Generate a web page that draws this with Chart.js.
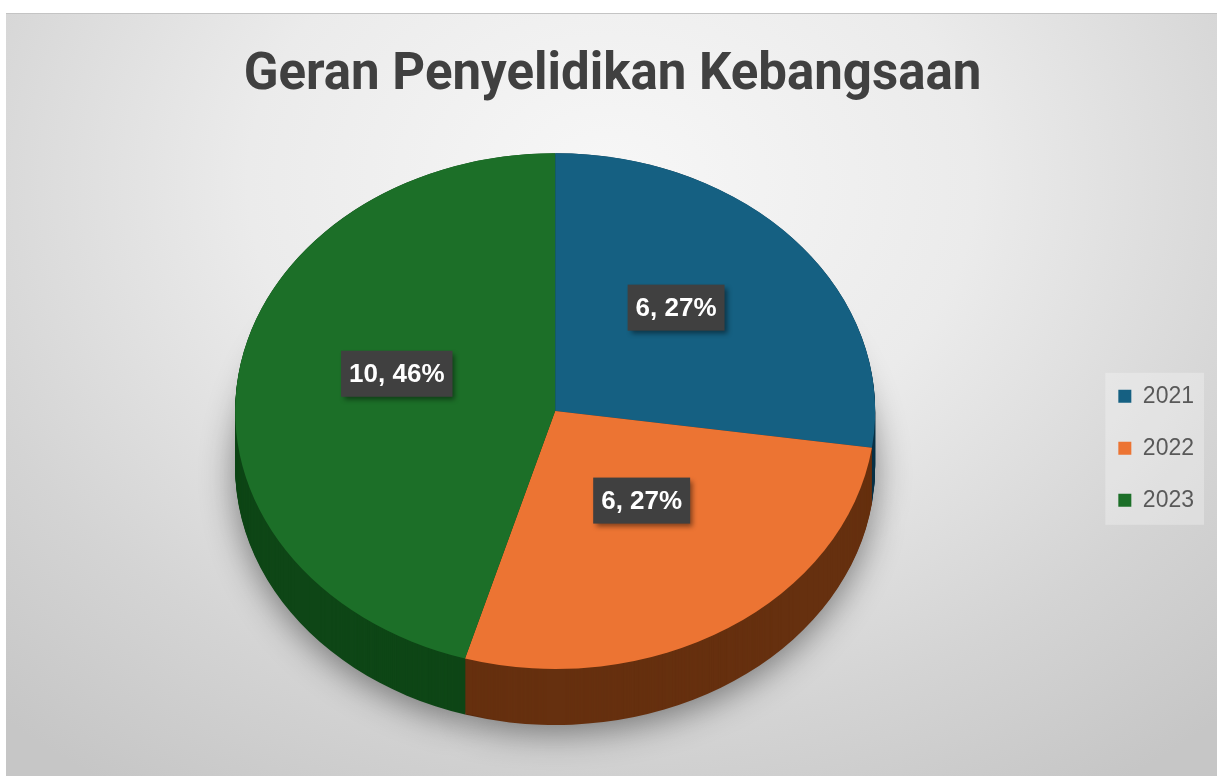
<!DOCTYPE html>
<html>
<head>
<meta charset="utf-8">
<script src="https://cdn.jsdelivr.net/npm/chart.js@4"></script>
<style>
  html, body { margin: 0; padding: 0; background: #ffffff; }
  .frame {
    position: absolute;
    left: 6px; top: 13px;
    width: 1211px; height: 763px;
    border-top: 1px solid #c4c4c4;
    box-sizing: border-box;
    background: radial-gradient(ellipse 75% 95% at 50% 22%, #f7f7f7 0%, #ebebeb 40%, #d4d4d4 75%, #c6c6c6 100%);
  }
</style>
</head>
<body>
<div class="frame">
  <canvas id="granChart"></canvas>
</div>
<script>
// data
const years = ["2021", "2022", "2023"];
const grantCounts = [6, 6, 10];

// look
const sliceColors = ["#156082", "#EC7433", "#1C6F28"];
const sideColors = ["#0a3247", "#66300f", "#0e4616"];
const TILT = 0.806;     // vertical squash of the pie top
const DEPTH = 56;       // thickness of the 3d pie
const LABEL_LIFT = 19;

Chart.defaults.font.family = "'Liberation Sans', Arial, sans-serif";

// Excel style percentages that add up to 100
function percentLabels(values) {
  const total = values.reduce((a, b) => a + b, 0);
  const raw = values.map(v => v / total * 100);
  const floors = raw.map(Math.floor);
  let left = 100 - floors.reduce((a, b) => a + b, 0);
  const order = raw.map((r, i) => [r - floors[i], i]).sort((a, b) => b[0] - a[0]);
  for (let k = 0; k < left; k++) floors[order[k][1]] += 1;
  return floors;
}

function squash(ctx, cy) {
  ctx.translate(0, cy);
  ctx.scale(1, TILT);
  ctx.translate(0, -cy);
}

const legendBackground = {
  id: "legendBackground",
  beforeDraw(chart) {
    const boxes = chart.legend && chart.legend.legendHitBoxes;
    if (!boxes || !boxes.length) return;
    const left = Math.min(...boxes.map(b => b.left)) - 13;
    const right = Math.max(...boxes.map(b => b.left + b.width)) + 10;
    const top = Math.min(...boxes.map(b => b.top)) - 12;
    const bottom = Math.max(...boxes.map(b => b.top + b.height)) + 13;
    const ctx = chart.ctx;
    ctx.save();
    ctx.fillStyle = "rgba(255,255,255,0.28)";
    ctx.fillRect(left, top, right - left, bottom - top);
    ctx.restore();
  }
};

const pie3d = {
  id: "pie3d",
  beforeDatasetsDraw(chart) {
    const ctx = chart.ctx;
    const arcs = chart.getDatasetMeta(0).data;
    if (!arcs.length) return;
    const cx = arcs[0].x, cy = arcs[0].y;

    // side wall, stacked from the bottom up
    for (let d = DEPTH; d >= 0; d--) {
      ctx.save();
      if (d === DEPTH) {
        ctx.shadowColor = "rgba(0,0,0,0.45)";
        ctx.shadowBlur = 34;
        ctx.shadowOffsetY = 8;
      }
      ctx.translate(0, d - DEPTH / 2);
      squash(ctx, cy);
      arcs.forEach((arc, i) => {
        const p = arc.getProps(["startAngle", "endAngle", "outerRadius"], true);
        ctx.beginPath();
        ctx.moveTo(cx, cy);
        ctx.arc(cx, cy, p.outerRadius, p.startAngle, p.endAngle);
        ctx.closePath();
        ctx.fillStyle = sideColors[i];
        ctx.fill();
      });
      ctx.restore();
    }

    // top face is drawn by chart.js inside this transform
    ctx.save();
    ctx.translate(0, -DEPTH / 2);
    squash(ctx, cy);
  },
  afterDatasetsDraw(chart) {
    const ctx = chart.ctx;
    ctx.restore();

    const meta = chart.getDatasetMeta(0);
    const values = chart.data.datasets[0].data;
    const pcts = percentLabels(values);
    ctx.save();
    ctx.font = "bold 26px 'Liberation Sans', Arial, sans-serif";
    ctx.textAlign = "center";
    ctx.textBaseline = "middle";
    meta.data.forEach((arc, i) => {
      const c = arc.getCenterPoint(true);
      const x = c.x;
      const y = arc.y + (c.y - arc.y) * TILT - DEPTH / 2 - LABEL_LIFT;
      const text = values[i] + ", " + pcts[i] + "%";
      const w = ctx.measureText(text).width + 16;
      const h = 46;
      ctx.save();
      ctx.shadowColor = "rgba(0,0,0,0.45)";
      ctx.shadowBlur = 5;
      ctx.shadowOffsetX = 3;
      ctx.shadowOffsetY = 3;
      ctx.fillStyle = "#404040";
      ctx.fillRect(x - w / 2, y - h / 2, w, h);
      ctx.restore();
      ctx.fillStyle = "#ffffff";
      ctx.fillText(text, x, y + 1);
    });
    ctx.restore();
  }
};

new Chart(document.getElementById("granChart"), {
  type: "pie",
  data: {
    labels: years,
    datasets: [{
      data: grantCounts,
      backgroundColor: sliceColors,
      borderWidth: 0,
      radius: 320,
      clip: false
    }]
  },
  options: {
    responsive: true,
    maintainAspectRatio: false,
    animation: false,
    layout: { padding: { left: 15, right: 13, top: 0, bottom: 10 } },
    plugins: {
      title: {
        display: true,
        text: "Geran Penyelidikan Kebangsaan",
        color: "#404040",
        font: { family: "Roboto, 'Liberation Sans', sans-serif", size: 51, weight: "bold" },
        padding: { top: 32, bottom: 5 }
      },
      legend: {
        position: "right",
        fullSize: false,
        title: { display: true, text: "", font: { size: 12 }, padding: 2 },
        labels: {
          color: "#595959",
          font: { size: 23 },
          boxWidth: 13,
          boxHeight: 13,
          padding: 29
        }
      },
      tooltip: { enabled: false }
    }
  },
  plugins: [legendBackground, pie3d]
});
</script>
</body>
</html>
